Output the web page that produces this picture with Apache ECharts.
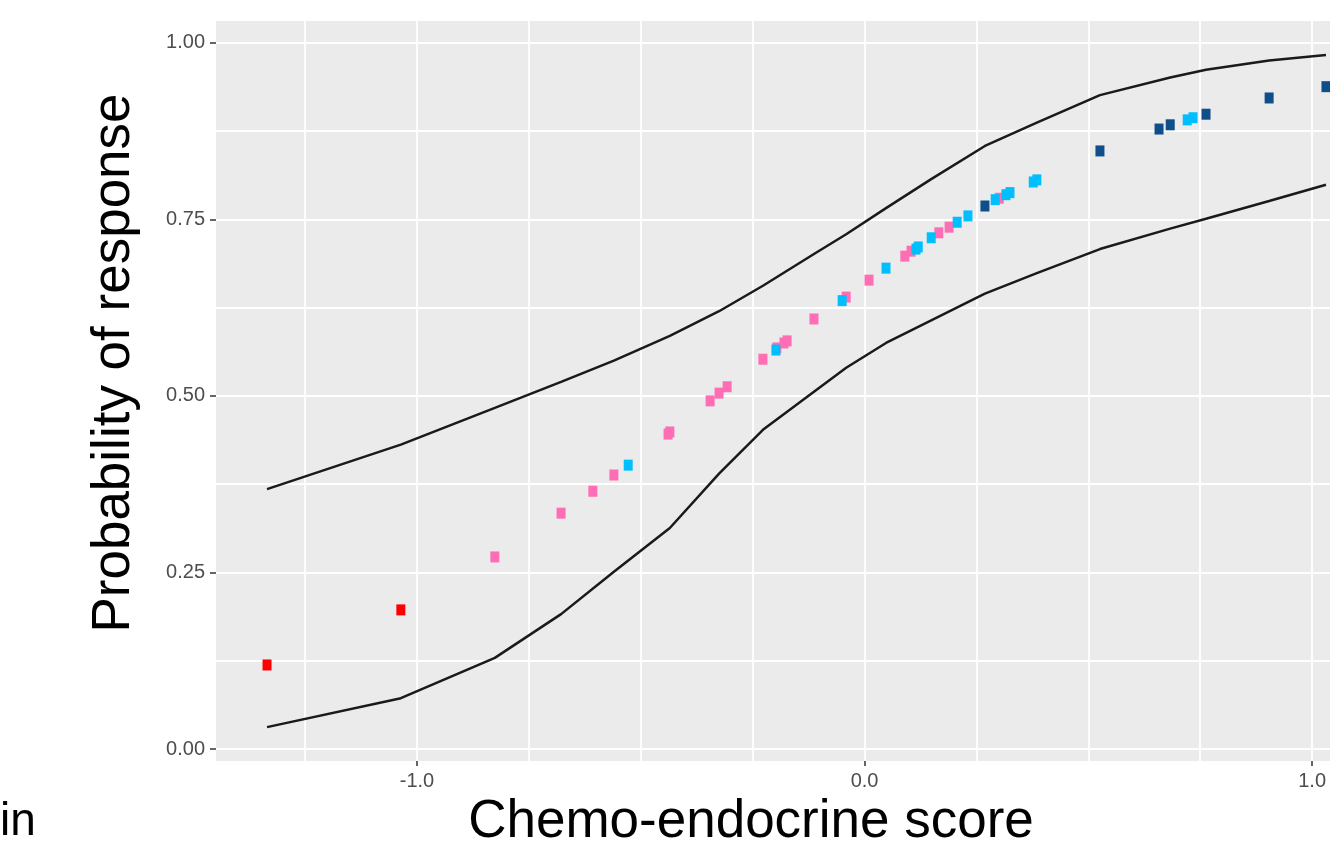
<!DOCTYPE html>
<html>
<head>
<meta charset="utf-8">
<script src="https://cdn.jsdelivr.net/npm/echarts@6/dist/echarts.min.js"></script>
<style>
  html, body { margin: 0; padding: 0; background: #fff; }
  #chart { width: 1330px; height: 846px; }
</style>
</head>
<body>
<div id="chart"></div>
<script>
// points, [score, probability]
const redPoints = [[-1.335, 0.119], [-1.036, 0.197]];
const pinkPoints = [
  [-0.826, 0.272], [-0.678, 0.334], [-0.607, 0.365], [-0.560, 0.388],
  [-0.439, 0.446], [-0.435, 0.449], [-0.345, 0.493], [-0.325, 0.504],
  [-0.307, 0.513], [-0.227, 0.552], [-0.196, 0.568], [-0.180, 0.575],
  [-0.173, 0.578], [-0.113, 0.609], [-0.041, 0.640], [0.010, 0.664],
  [0.090, 0.698], [0.104, 0.705], [0.166, 0.731], [0.189, 0.739],
  [0.301, 0.780]
];
const lightBluePoints = [
  [-0.528, 0.402], [-0.198, 0.565], [-0.050, 0.635], [0.048, 0.681],
  [0.115, 0.708], [0.120, 0.711], [0.149, 0.724], [0.207, 0.746],
  [0.231, 0.755], [0.292, 0.778], [0.316, 0.785], [0.325, 0.788],
  [0.377, 0.803], [0.385, 0.806], [0.721, 0.891], [0.734, 0.894]
];
const darkBluePoints = [
  [0.269, 0.769], [0.526, 0.847], [0.658, 0.878], [0.683, 0.884],
  [0.763, 0.899], [0.904, 0.922], [1.031, 0.938]
];

// confidence band, read at the data x positions
const bandX = [-1.335, -1.036, -0.826, -0.678, -0.560, -0.435, -0.325, -0.227, -0.113,
  -0.041, 0.048, 0.149, 0.269, 0.385, 0.526, 0.683, 0.763, 0.904, 1.031];
const upperY = [0.368, 0.431, 0.483, 0.520, 0.550, 0.585, 0.620, 0.656, 0.701,
  0.729, 0.766, 0.807, 0.854, 0.887, 0.926, 0.951, 0.962, 0.975, 0.983];
const lowerY = [0.031, 0.072, 0.129, 0.191, 0.251, 0.313, 0.390, 0.452, 0.506,
  0.540, 0.575, 0.607, 0.645, 0.674, 0.708, 0.737, 0.751, 0.776, 0.799];

// ticks and grid lines
const xTicks = [-1.0, 0.0, 1.0];
const xGrid = [-1.25, -1.0, -0.75, -0.5, -0.25, 0, 0.25, 0.5, 0.75, 1.0];
const yTicks = [0, 0.25, 0.5, 0.75, 1.0];
const yGrid = [0, 0.125, 0.25, 0.375, 0.5, 0.625, 0.75, 0.875, 1.0];

const xTitle = "Chemo-endocrine score";
const yTitle = "Probability of response";

const FONT = "'Liberation Sans', Arial, sans-serif";
const xMin = -1.449, xMax = 1.040, yMin = -0.017, yMax = 1.031;

const chart = echarts.init(document.getElementById("chart"));

function pts(data, color) {
  return {
    type: "scatter",
    data: data,
    symbol: "rect",
    symbolSize: [9, 11],
    itemStyle: { color: color, opacity: 1 },
    z: 5,
  };
}

function band(ys) {
  return {
    type: "line",
    data: bandX.map((x, i) => [x, ys[i]]),
    showSymbol: false,
    symbol: "none",
    lineStyle: { color: "#1a1a1a", width: 2.5 },
    z: 4,
  };
}

const gridLine = { show: true, lineStyle: { color: "#ffffff", width: 1.8 } };
const noLine = { show: false, onZero: false };

chart.setOption({
  animation: false,
  grid: {
    left: 216,
    top: 21,
    right: 0,
    bottom: 85,
    show: true,
    backgroundColor: "#EBEBEB",
    borderWidth: 0,
  },
  xAxis: [
    {
      type: "value",
      min: xMin,
      max: xMax,
      axisLine: noLine,
      axisTick: { customValues: xTicks, length: 5, lineStyle: { color: "#333", width: 1.5 } },
      axisLabel: {
        customValues: xTicks,
        formatter: (v) => v.toFixed(1),
        fontSize: 20,
        fontFamily: FONT,
        color: "#4d4d4d",
        margin: 10,
      },
      splitLine: { show: false },
    },
    {
      type: "value",
      min: xMin,
      max: xMax,
      position: "bottom",
      axisLine: noLine,
      axisTick: { show: false, customValues: xGrid },
      axisLabel: { show: false },
      splitLine: gridLine,
    },
  ],
  yAxis: [
    {
      type: "value",
      min: yMin,
      max: yMax,
      axisLine: noLine,
      axisTick: { customValues: yTicks, length: 6, lineStyle: { color: "#333", width: 1.5 } },
      axisLabel: {
        customValues: yTicks,
        formatter: (v) => v.toFixed(2),
        fontSize: 20,
        fontFamily: FONT,
        color: "#4d4d4d",
        margin: 11,
      },
      splitLine: { show: false },
    },
    {
      type: "value",
      min: yMin,
      max: yMax,
      position: "left",
      axisLine: noLine,
      axisTick: { show: false, customValues: yGrid },
      axisLabel: { show: false },
      splitLine: gridLine,
    },
  ],
  graphic: [
    {
      type: "text",
      x: 751,
      y: 822,
      style: {
        text: xTitle,
        fontSize: 53,
        fontFamily: FONT,
        fill: "#000",
        align: "center",
        verticalAlign: "middle",
        textAlign: "center",
        textVerticalAlign: "middle",
      },
    },
    {
      type: "text",
      x: 114,
      y: 363,
      rotation: Math.PI / 2,
      style: {
        text: yTitle,
        fontSize: 53,
        fontFamily: FONT,
        fill: "#000",
        align: "center",
        verticalAlign: "middle",
        textAlign: "center",
        textVerticalAlign: "middle",
      },
    },
    {
      type: "text",
      x: 0,
      y: 822,
      style: {
        text: "in",
        fontSize: 46,
        fontFamily: FONT,
        fill: "#000",
        align: "left",
        verticalAlign: "middle",
        textAlign: "left",
        textVerticalAlign: "middle",
      },
    },
  ],
  series: [
    band(upperY),
    band(lowerY),
    pts(redPoints, "#FF0000"),
    pts(pinkPoints, "#FF6EB4"),
    pts(lightBluePoints, "#00BFFF"),
    pts(darkBluePoints, "#104E8B"),
  ],
});
</script>
</body>
</html>
